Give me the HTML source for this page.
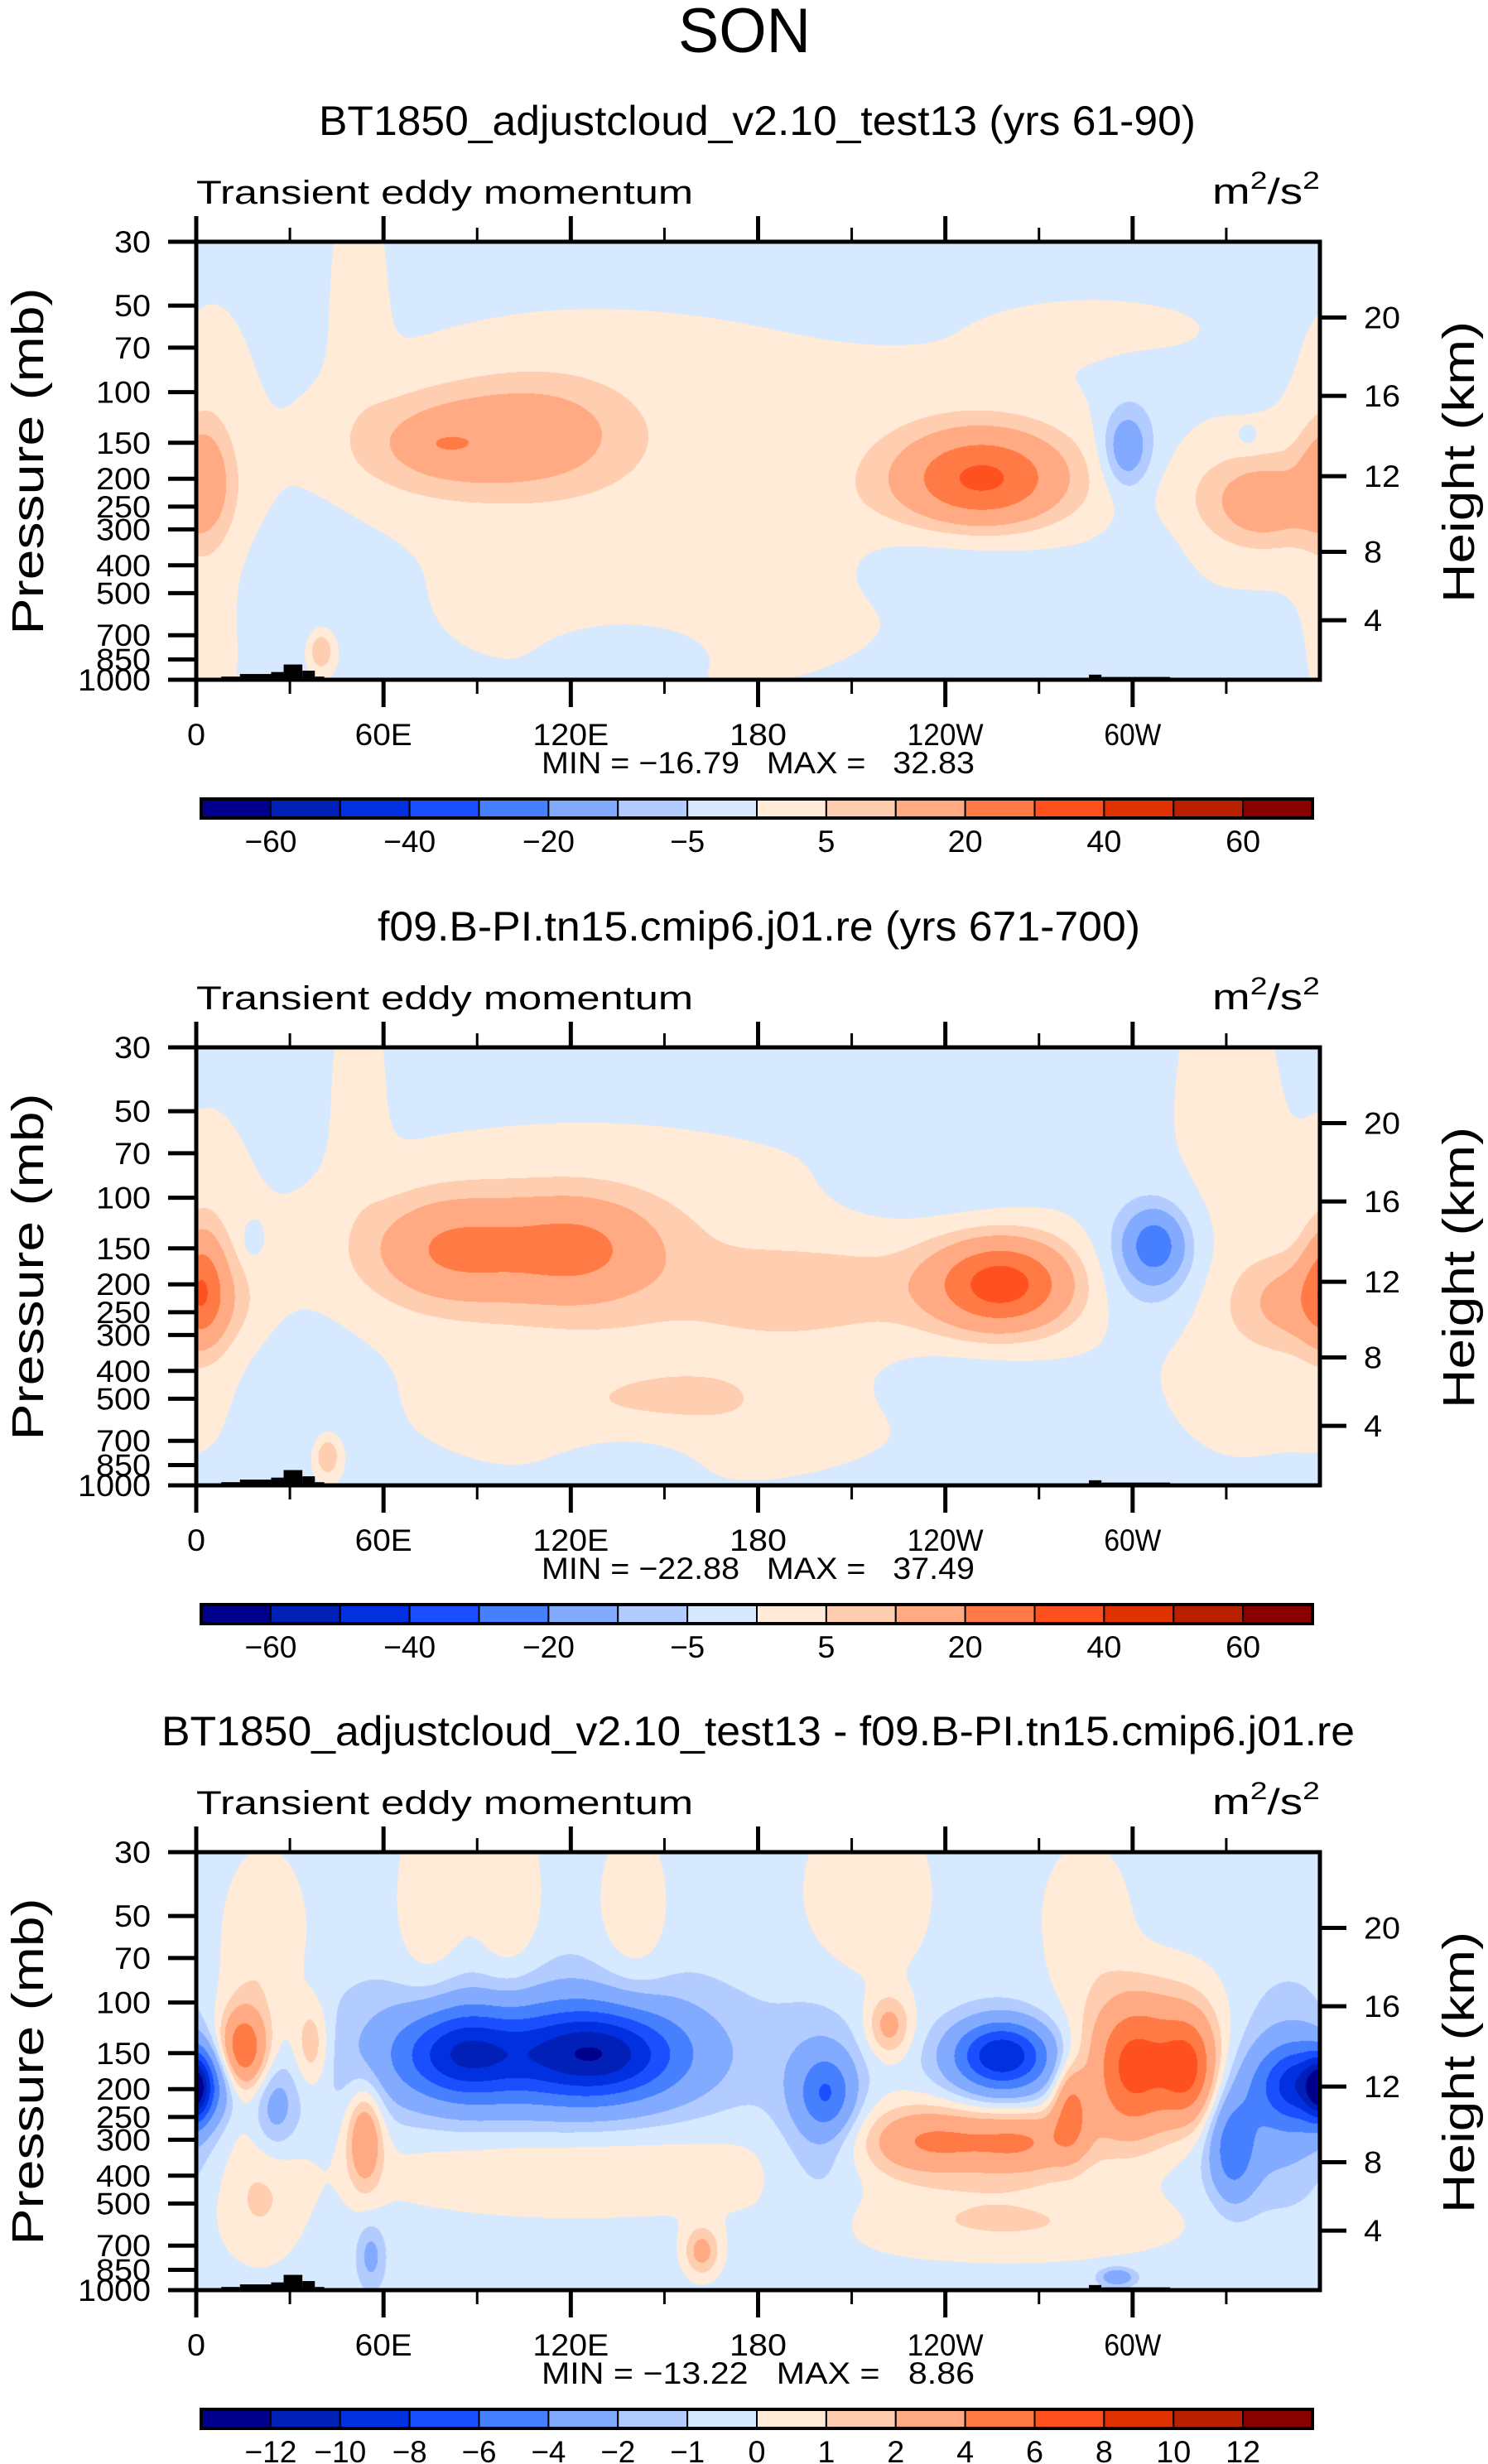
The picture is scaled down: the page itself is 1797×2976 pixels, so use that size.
<!DOCTYPE html>
<html><head><meta charset="utf-8">
<style>
html,body{margin:0;padding:0;background:#fff;}
#wrap{position:relative;width:1797px;height:2976px;overflow:hidden;background:#fff;}
canvas{position:absolute;}
svg{position:absolute;left:0;top:0;}
text{font-family:"Liberation Sans",sans-serif;fill:#000;}
</style></head>
<body>
<div id="wrap">
<canvas id="c0" width="1357" height="529" style="left:237px;top:292px"></canvas>
<canvas id="c1" width="1357" height="529" style="left:237px;top:1265px"></canvas>
<canvas id="c2" width="1357" height="529" style="left:237px;top:2237px"></canvas>
<svg id="ov" width="1797" height="2976" xmlns="http://www.w3.org/2000/svg"></svg>
</div>
<script>
// ---------- data ----------
const colors = ["#00008c","#0020b8","#0030e0","#1a4fff","#4680ff","#82aaff","#b3ccff","#d6e9ff","#ffebd8","#ffcdb0","#ffaa82","#ff7a45","#ff5020","#e03200","#b82000","#880000"];
const levelsAbs = [-60,-50,-40,-30,-20,-10,-5,0,5,10,20,30,40,50,60];
const levelsDiff = [-12,-10,-8,-6,-4,-2,-1,0,1,2,4,6,8,10,12];
const labelsAbs = ["−60","−40","−20","−5","5","20","40","60"];
const labelsDiff = ["−12","−10","−8","−6","−4","−2","−1","0","1","2","4","6","8","10","12"];
const presTicks = [30,50,70,100,150,200,250,300,400,500,700,850,1000];
const heightTicks = [4,8,12,16,20];
const heightPres = [621,359,196,103,55];
const lonTicks = [0,60,120,180,240,300];
const lonLabels = ["0","60E","120E","180","120W","60W"];
const topoLon0 = [8,14,24,28,34,38,286,290];
const topoLon1 = [14,24,28,34,38,41,290,312];
const topoP = [975,955,940,885,930,975,960,978];
// panel 1 blobs: lon, pressure(mb), amplitude, lon-spread(deg), level-spread(frac of axis)
const base1 = -1.2;
const lon1 = [52,135,250,150,5,290,335,78,110,80,252,2,342,340,40,298,302,240,35,140,305,337,200,5];
const pres1 = [42,146,173,600,173,60,260,151,140,151,200,200,246,222,790,157,146,374,500,760,416,146,300,800];
const amp1 = [3,3.5,3,3.5,3,2.5,3,12,12,5,30,13,10,5,12,-14,-3,-4,-4,-4,-3,-3,2,2.5];
const sl1 = [6,60,35,45,10,25,20,20,20,5,18,6,10,20,3,5,9,25,12,18,8,3,30,6];
const sy1 = [0.2,0.2,0.15,0.12,0.25,0.05,0.12,0.08,0.09,0.015,0.075,0.09,0.06,0.08,0.035,0.06,0.1,0.07,0.1,0.05,0.1,0.02,0.1,0.15];
// panel 2 blobs
const base2 = -1.2;
const lon2 = [52,330,140,250,5,335,150,82,122,105,195,258,307,306,2,355,42,18,240,35,140,240,150,200];
const pres2 = [42,50,173,200,173,304,533,151,151,151,200,200,146,162,200,230,790,140,100,500,760,416,600,300];
const amp2 = [3,3,3.5,3,3,3,3,16,16,6,5,33,-20,-9,18,13,12,-6,-3,-4,-4,-4,3,2.5];
const sl2 = [6,12,60,35,10,20,45,17,17,40,25,15,6,12,5,14,3,2,25,12,18,25,40,35];
const sy2 = [0.2,0.25,0.2,0.15,0.25,0.2,0.08,0.08,0.08,0.12,0.06,0.07,0.05,0.1,0.09,0.07,0.035,0.025,0.06,0.1,0.05,0.07,0.1,0.1];
// panel 3 (difference) blobs
const base3 = -0.5;
const lon3 = [85,128,110,202,200,258,260,235,265,250,300,318,310,280,356,345,332,0,15,15,37,25,54,222,162,56,295,22,75,100,140,215,285,120,260,20];
const pres3 = [151,151,151,207,246,151,173,304,304,293,173,173,146,230,193,207,326,200,146,162,140,230,293,121,735,760,900,60,50,50,50,42,50,374,590,496];
const amp3 = [-7,-8.5,-3.5,-4,-2,-7,-3,3,3,2,5,5,3,4,-7.5,-3,-4,-6,5,2,2.5,-2.5,4,3,3,-2,-3,1.3,1.3,1.3,1.3,1.3,1.3,1.5,1.5,1.5];
const sl3 = [14,18,40,6,10,10,15,14,12,30,9,6,20,4,10,15,5,3,5,8,4,5,4,5,4,3,4,10,8,8,8,15,10,50,40,10];
const sy3 = [0.07,0.07,0.12,0.06,0.15,0.05,0.08,0.05,0.05,0.08,0.1,0.08,0.12,0.07,0.06,0.15,0.08,0.05,0.06,0.12,0.07,0.07,0.08,0.05,0.04,0.05,0.015,0.15,0.2,0.2,0.15,0.15,0.12,0.08,0.06,0.1];

const titles = ["BT1850_adjustcloud_v2.10_test13 (yrs 61-90)","f09.B-PI.tn15.cmip6.j01.re (yrs 671-700)","BT1850_adjustcloud_v2.10_test13 - f09.B-PI.tn15.cmip6.j01.re"];
const titleX0 = [385,456,195], titleX1 = [1444,1377,1636];
const minVals = ["−16.79","−22.88","−13.22"];
const maxVals = ["32.83","37.49","8.86"];

// ---------- axes ----------
const PL=237, PR=1594, PT=292, PH=529, OFF=[0,973,1945];
const LN = Math.log(1000/30);
function yFrac(p){return Math.log(p/30)/LN;}
function yOf(p,k){return PT+OFF[k]+yFrac(p)*PH;}
function xOf(lon){return PL+lon/360*(PR-PL);}

// ---------- field rendering ----------
function render(id,k,base,L,P,A,S,SY,levels){
  const cv=document.getElementById(id), ctx=cv.getContext('2d');
  const w=cv.width,h=cv.height, img=ctx.createImageData(w,h);
  const rgb=colors.map(c=>[parseInt(c.substr(1,2),16),parseInt(c.substr(3,2),16),parseInt(c.substr(5,2),16)]);
  const yb=P.map(yFrac);
  for(let j=0;j<h;j++){
    const yf=(j+0.5)/h;
    const ry=yb.map((v,i)=>Math.exp(-0.5*((yf-v)/SY[i])**2));
    for(let i=0;i<w;i++){
      const lon=(i+0.5)/w*360;
      let v=base;
      for(let b=0;b<L.length;b++){
        if(ry[b]<1e-4)continue;
        let d=Math.abs(lon-L[b]); if(d>180)d=360-d;
        v+=A[b]*ry[b]*Math.exp(-0.5*(d/S[b])**2);
      }
      let idx=0; while(idx<levels.length && v>=levels[idx]) idx++;
      const c=rgb[idx], o=(j*w+i)*4;
      img.data[o]=c[0];img.data[o+1]=c[1];img.data[o+2]=c[2];img.data[o+3]=255;
    }
  }
  ctx.putImageData(img,0,0);
}
render('c0',0,base1,lon1,pres1,amp1,sl1,sy1,levelsAbs);
render('c1',1,base2,lon2,pres2,amp2,sl2,sy2,levelsAbs);
render('c2',2,base3,lon3,pres3,amp3,sl3,sy3,levelsDiff);

// ---------- overlay ----------
const NS="http://www.w3.org/2000/svg", ov=document.getElementById('ov');
function el(tag,attrs,parent){const e=document.createElementNS(NS,tag);for(const a in attrs)e.setAttribute(a,attrs[a]);(parent||ov).appendChild(e);return e;}
function txt(s,attrs,parent){const e=el('text',attrs,parent);e.textContent=s;return e;}

const son=txt("SON",{x:899,y:63,'font-size':76,'text-anchor':'middle',textLength:160,lengthAdjust:'spacingAndGlyphs'});



for(let k=0;k<3;k++){
  const o=OFF[k];
  const g=el('g',{});
  
  
  const t=txt(titles[k],{x:titleX0[k],y:163+o,'font-size':50,textLength:titleX1[k]-titleX0[k],lengthAdjust:'spacingAndGlyphs'},g);
  
  
  const lt=txt("Transient eddy momentum",{x:237,y:246+o,'font-size':40,textLength:600,lengthAdjust:'spacingAndGlyphs'},g);
  
  
  const un=el('text',{x:1464,y:246+o,'font-size':44,textLength:130,lengthAdjust:'spacingAndGlyphs'},g);
  
  
  un.innerHTML='m<tspan dy="-18" font-size="30">2</tspan><tspan dy="18">/s</tspan><tspan dy="-18" font-size="30">2</tspan>';
  // topography
  for(let i=0;i<topoLon0.length;i++){
    const r=el('rect',{x:xOf(topoLon0[i]),y:yOf(topoP[i],k),width:xOf(topoLon1[i])-xOf(topoLon0[i]),height:yOf(1000,k)-yOf(topoP[i],k),fill:'#000'},g);
    
    
  }
  // frame
  const fr=el('rect',{x:PL,y:PT+o,width:PR-PL,height:PH,fill:'none',stroke:'#000','stroke-width':5},g);
  
  
  // pressure ticks
  presTicks.forEach(p=>{
    const y=yOf(p,k);
    const l=el('line',{x1:203,x2:PL,y1:y,y2:y,stroke:'#000','stroke-width':5},g);
    
    
    const s=String(p);
    const tl=txt(s,{x:182,y:y+13,'font-size':37,'text-anchor':'end',textLength:22*s.length,lengthAdjust:'spacingAndGlyphs'},g);
    
    
  });
  // height ticks
  heightTicks.forEach((hk,i)=>{
    const y=yOf(heightPres[i],k);
    const l=el('line',{x1:PR,x2:1626,y1:y,y2:y,stroke:'#000','stroke-width':5},g);
    
    
    const s=String(hk);
    const tl=txt(s,{x:1647,y:y+13,'font-size':37,textLength:22*s.length,lengthAdjust:'spacingAndGlyphs'},g);
    
    
  });
  // lon ticks
  for(let lon=0;lon<=330;lon+=30){
    const x=xOf(lon), major=lon%60===0;
    const a=el('line',{x1:x,x2:x,y1:PT+o,y2:PT+o-(major?31:17),stroke:'#000','stroke-width':major?5:3},g);
    
    
    const b=el('line',{x1:x,x2:x,y1:PT+o+PH,y2:PT+o+PH+(major?33:17),stroke:'#000','stroke-width':major?5:3},g);
    
    
  }
  lonTicks.forEach((lon,i)=>{
    const s=lonLabels[i];
    const tl=txt(s,{x:xOf(lon),y:900+o,'font-size':37,'text-anchor':'middle',textLength:(s.length===1?22:s.length*23),lengthAdjust:'spacingAndGlyphs'},g);
    
    
  });
  const mm=txt("MIN = "+minVals[k]+"\u00a0\u00a0\u00a0MAX =\u00a0\u00a0\u00a0"+maxVals[k],{x:654,y:934+o,'font-size':37,textLength:523,lengthAdjust:'spacingAndGlyphs'},g);
  
  
  // axis titles
  const pt=txt("Pressure  (mb)",{x:0,y:0,'font-size':54,'text-anchor':'middle',textLength:419,lengthAdjust:'spacingAndGlyphs',transform:`translate(52,${557+o}) rotate(-90)`},g);
  
  
  const ht=txt("Height  (km)",{x:0,y:0,'font-size':54,'text-anchor':'middle',textLength:340,lengthAdjust:'spacingAndGlyphs',transform:`translate(1780,${558+o}) rotate(-90)`},g);
  
  
  // colorbar
  const cbx=243, cbw=1342, cby=965+o, cbh=23, bw=cbw/16;
  colors.forEach((c,i)=>{
    const r=el('rect',{x:cbx+i*bw,y:cby,width:bw,height:cbh,fill:c,stroke:'#000','stroke-width':2},g);
    
    
  });
  const cbf=el('rect',{x:cbx,y:cby,width:cbw,height:cbh,fill:'none',stroke:'#000','stroke-width':4},g);
  
  
  const labs=k<2?labelsAbs:labelsDiff;
  labs.forEach((s,i)=>{
    const bi=k<2?(2*i+1):(i+1);
    const tl=txt(s,{x:cbx+bi*bw,y:1029+o,'font-size':37,'text-anchor':'middle',textLength:21*s.length,lengthAdjust:'spacingAndGlyphs'},g);
    
    
  });
}
</script>
</body></html>
